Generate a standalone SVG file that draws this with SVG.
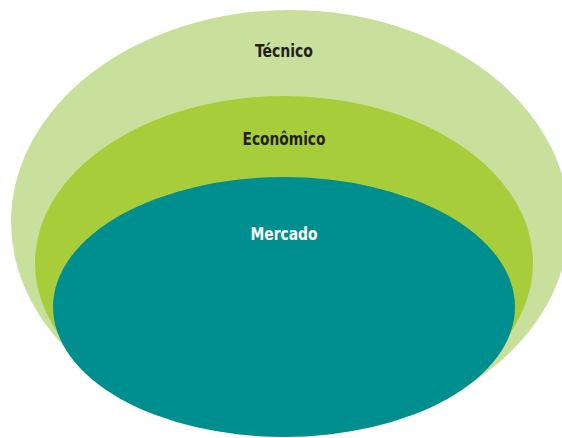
<svg xmlns="http://www.w3.org/2000/svg" width="562" height="438" viewBox="0 0 562 438">
<style>
.lbl{font-family:"Liberation Sans Narrow","DejaVu Sans Condensed","Liberation Sans",sans-serif;font-weight:bold;font-size:17px;text-anchor:middle}
.dark{fill:#231f20}
.light{fill:#ffffff}
</style>
<rect width="562" height="438" fill="#ffffff"/>
<g id="tecnico">
<ellipse cx="290" cy="222" rx="279" ry="212" fill="#c8e09c"/>
<text class="lbl dark" x="284" y="57" textLength="58" lengthAdjust="spacingAndGlyphs">Técnico</text>
</g>
<g id="economico">
<ellipse cx="284" cy="263" rx="249" ry="167" fill="#a8cd3a"/>
<text class="lbl dark" x="284" y="145" textLength="83" lengthAdjust="spacingAndGlyphs">Econômico</text>
</g>
<g id="mercado">
<ellipse cx="284" cy="307" rx="231" ry="130" fill="#008e8e"/>
<text class="lbl light" x="284" y="240" textLength="67" lengthAdjust="spacingAndGlyphs">Mercado</text>
</g>
<g id="connectors"/>
</svg>
